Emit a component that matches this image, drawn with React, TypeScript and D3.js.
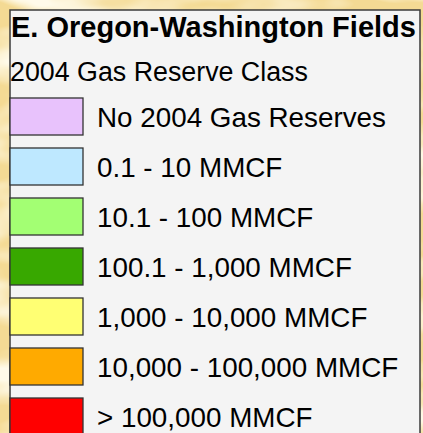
import * as d3 from "d3";
import React from "react";

const title = "E. Oregon-Washington Fields";
const subtitle = "2004 Gas Reserve Class";
const classes = [
  "No 2004 Gas Reserves",
  "0.1 - 10 MMCF",
  "10.1 - 100 MMCF",
  "100.1 - 1,000 MMCF",
  "1,000 - 10,000 MMCF",
  "10,000 - 100,000 MMCF",
  "> 100,000 MMCF",
];
const colors = ["#E8C2FC", "#BEE8FF", "#A3FF73", "#38A800", "#FFFF73", "#FFAA00", "#FF0000"];

const W = 423;
const H = 433;

const App: React.FC = () => {
  const y = d3
    .scaleBand<string>()
    .domain(classes)
    .range([98, 435])
    .paddingInner(0.26)
    .paddingOuter(0);
  const color = d3.scaleOrdinal<string, string>().domain(classes).range(colors);

  return (
    <svg
      width={W}
      height={H}
      style={{ position: "absolute", left: 0, top: 0 }}
      fontFamily="Arial, 'Liberation Sans', sans-serif"
    >
      <defs>
        <filter id="parch" x="0" y="0" width="100%" height="100%">
          <feTurbulence type="fractalNoise" baseFrequency="0.01 0.025" numOctaves="3" seed="7" />
          <feColorMatrix
            type="matrix"
            values="0 0 0 0 1  0 0 0 0 0.96  0 0 0 0 0.82  0 0 0 3 -1.2"
          />
        </filter>
      </defs>
      <rect width={W} height={H} fill="#F4DA94" />
      <rect width={W} height={H} filter="url(#parch)" />
      <rect x={10} y={10} width={410} height={H} fill="#F4F4F4" stroke="#3a3a3a" strokeWidth={1.5} />
      <text x={11} y={37} fontSize={29} fontWeight="bold" fill="#000">
        {title}
      </text>
      <text x={10} y={81} fontSize={26.8} fill="#000">
        {subtitle}
      </text>
      {classes.map((c) => (
        <g key={c}>
          <rect
            x={10}
            y={y(c)!}
            width={73}
            height={y.bandwidth()}
            fill={color(c)}
            stroke="#333"
            strokeWidth={1.3}
          />
          <text x={97} y={y(c)! + y.bandwidth() / 2 + 10} fontSize={27.8} fill="#000">
            {c}
          </text>
        </g>
      ))}
    </svg>
  );
};

export default App;
